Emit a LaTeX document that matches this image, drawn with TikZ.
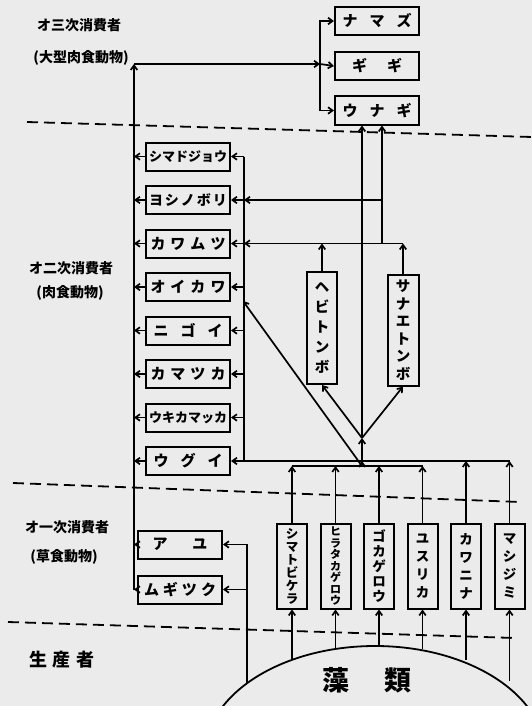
\documentclass[tikz,border=0pt]{standalone}
\usepackage{fontspec}
\setmainfont{Noto Sans CJK JP}
\usetikzlibrary{arrows.meta,positioning}
\newcommand\kan[1]{\hspace{#1pt}}

\begin{document}
\begin{tikzpicture}[
  x=1pt, y=-1pt,
  node distance=13.5pt,
  yoko/.style={rectangle, draw, line width=2pt, minimum width=84pt, minimum height=28pt, inner sep=1pt, font=\bfseries\fontsize{15}{18}\selectfont},
  tate/.style={rectangle, draw, line width=2pt, minimum width=30pt, minimum height=85pt, inner sep=1pt, align=center, font=\bfseries\fontsize{12.5}{13}\selectfont},
  flow/.style={-{Straight Barb[length=4.5pt,width=6.5pt]}, line width=1.7pt},
  lvl/.style={font=\bfseries\fontsize{14}{16}\selectfont},
  sep/.style={dash pattern=on 11pt off 6pt, line width=1.8pt}
]
  \useasboundingbox (0,0) rectangle (532,706);
  \fill[black!8] (0,0) rectangle (532,706);

  \node[yoko] (namazu) at (377,21) {ナ\kan{12}マ\kan{12}ズ};
  \node[yoko, below=15pt of namazu] (gigi) {ギ\kan{20}ギ};
  \node[yoko, below=14.5pt of gigi] (unagi) {ウ\kan{12}ナ\kan{12}ギ};

  \node[yoko, font=\bfseries\fontsize{13}{16}\selectfont] (shimadojou) at (188,156.5) {シマドジョウ};
  \node[yoko, below=of shimadojou, font=\bfseries\fontsize{14}{16}\selectfont] (yoshinobori) {ヨ\kan{2}シ\kan{2}ノ\kan{2}ボ\kan{2}リ};
  \node[yoko, below=of yoshinobori] (kawamutsu) {カ\kan{5}ワ\kan{5}ム\kan{5}ツ};
  \node[yoko, below=of kawamutsu] (oikawa) {オ\kan{5}イ\kan{5}カ\kan{5}ワ};
  \node[yoko, below=of oikawa] (nigoi) {ニ\kan{12}ゴ\kan{12}イ};
  \node[yoko, below=of nigoi] (kamatsuka) {カ\kan{5}マ\kan{5}ツ\kan{5}カ};
  \node[yoko, below=of kamatsuka, font=\bfseries\fontsize{13}{16}\selectfont] (ukikamatsuka) {ウキカマッカ};
  \node[yoko, below=of ukikamatsuka] (ugui) {ウ\kan{12}グ\kan{12}イ};

  \node[yoko] (ayu) at (180,544.5) {ア\kan{25}ユ};
  \node[yoko, below=15pt of ayu] (mugi) {ム\kan{4}ギ\kan{4}ツ\kan{4}ク};

  \node[tate, minimum width=30pt, minimum height=112pt, font=\bfseries\fontsize{14.5}{20}\selectfont] (hebitonbo) at (322,328) {ヘ\\ビ\\ト\\ン\\ボ};
  \node[tate, minimum width=31pt, minimum height=111pt, font=\bfseries\fontsize{14.5}{17.5}\selectfont] (sanaetonbo) at (403,330) {サ\\ナ\\エ\\ト\\ン\\ボ};

  \node[tate] (shimatobi) at (292,566) {シ\\マ\\ト\\ビ\\ケ\\ラ};
  \node[tate, right=11.5pt of shimatobi, font=\bfseries\fontsize{11}{11.5}\selectfont] (hiratakagerou) {ヒ\\ラ\\タ\\カ\\ゲ\\ロ\\ウ};
  \node[tate, right=11.5pt of hiratakagerou, font=\bfseries\fontsize{13.5}{15}\selectfont] (gokagerou) {ゴ\\カ\\ゲ\\ロ\\ウ};
  \node[tate, right=11.5pt of gokagerou, font=\bfseries\fontsize{13.5}{18}\selectfont] (yusurika) {ユ\\ス\\リ\\カ};
  \node[tate, right=11.5pt of yusurika, font=\bfseries\fontsize{13.5}{18}\selectfont] (kawanina) {カ\\ワ\\ニ\\ナ};
  \node[tate, right=11.5pt of kawanina, font=\bfseries\fontsize{13.5}{18}\selectfont] (mashijimi) {マ\\シ\\ジ\\ミ};

  \node[lvl] (lv3a) at (79,25) {オ三次消費者};
  \node[lvl] (lv3b) at (81,58) {(大型肉食動物)};
  \node[lvl] (lv2a) at (71,268) {オ二次消費者};
  \node[lvl] (lv2b) at (70,293) {(肉食動物)};
  \node[lvl] (lv1a) at (67,527) {オ一次消費者};
  \node[lvl] (lv1b) at (64,557) {(草食動物)};
  \node[lvl, font=\bfseries\fontsize{18}{20}\selectfont] (seisan) at (62,660) {生\kan{6}産\kan{6}者};
  \node[font=\bfseries\fontsize{27}{30}\selectfont] (sourui) at (367,680) {藻\kan{36}類};

  \draw[sep] (27,122) -- (532,137);
  \draw[sep] (13,483) -- (520,502);
  \draw[sep] (8,622) -- (515,638);

  \begin{scope}
    \clip (0,0) rectangle (532,706);
    \draw[line width=1.8pt] (375,755) ellipse [x radius=170pt, y radius=109pt];
  \end{scope}

  \coordinate (cTop) at (134,64);
  \coordinate (fork) at (320,64);
  \draw[flow] (mugi.west -| cTop) -- (cTop);
  \draw[flow] (cTop) -- (fork);
  \draw[flow] (fork) -- (gigi.west);
  \draw[flow] (fork) |- (namazu.west);
  \draw[flow] (fork) |- (unagi.west);
  \foreach \n in {shimadojou,yoshinobori,kawamutsu,oikawa,nigoi,kamatsuka,ukikamatsuka,ugui,ayu,mugi}
    \draw[flow] (\n.west) -- (\n.west -| cTop);

  \coordinate (fTop) at ([xshift=13pt]shimadojou.east);
  \coordinate (fBot) at (fTop |- ugui.east);
  \draw[line width=1.7pt] (fTop) -- (fBot) -- (fBot -| mashijimi.north);
  \foreach \n in {shimadojou,yoshinobori,kawamutsu,oikawa,nigoi,kamatsuka,ukikamatsuka,ugui}
    \draw[flow] (\n.east -| fTop) -- (\n.east);
  \draw[flow] (kawanina.north) -- (kawanina.north |- fBot);
  \draw[flow] (mashijimi.north) -- (mashijimi.north |- fBot);

  \coordinate (bj) at (362,466);
  \coordinate (oj) at (362,438);
  \coordinate (dg) at (243,301);
  \foreach \n in {shimatobi,hiratakagerou,gokagerou,yusurika}
    \draw[flow] (\n.north) -- (\n.north |- bj);
  \draw[line width=1.7pt] (shimatobi.north |- bj) -- (yusurika.north |- bj);
  \draw[flow] (bj) -- (bj |- fBot);
  \draw[flow] (bj |- fBot) -- (oj);
  \draw[flow] (bj) -- (dg);
  \draw[flow] (oj) -- (hebitonbo.south);
  \draw[flow] (oj) -- (sanaetonbo.south);
  \draw[flow] (oj) -- (oj |- unagi.south);

  \coordinate (ov) at ([xshift=5pt]unagi.south |- kawamutsu.east);
  \draw[flow] (hebitonbo.north) -- (hebitonbo.north |- kawamutsu.east);
  \draw[flow] (sanaetonbo.north) -- (sanaetonbo.north |- kawamutsu.east);
  \draw[flow] (sanaetonbo.north |- kawamutsu.east) -- (kawamutsu.east -| fTop);
  \draw[flow] (ov) -- (ov |- unagi.south);
  \draw[flow] (ov |- yoshinobori.east) -- (yoshinobori.east -| fTop);

  \foreach \n/\y in {shimatobi/660, hiratakagerou/649, gokagerou/646, yusurika/649, kawanina/660, mashijimi/681}
    \draw[flow] (\n.south |- 0,\y) -- (\n.south);
  \coordinate (alg) at (247,683);
  \draw[flow] (alg) |- (ayu.east);
  \draw[flow] (mugi.east -| alg) -- (mugi.east);
\end{tikzpicture}
\end{document}
